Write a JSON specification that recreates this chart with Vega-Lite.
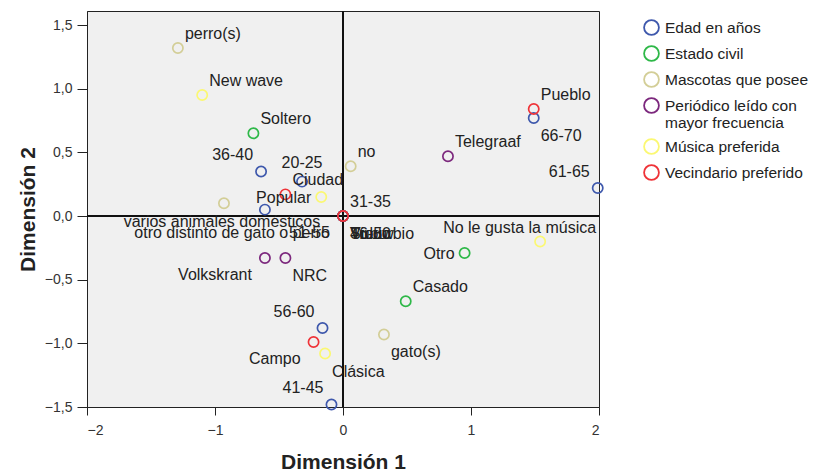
{
  "$schema": "https://vega.github.io/schema/vega-lite/v6.json",
  "width": 512,
  "height": 396,
  "autosize": "none",
  "padding": {"left": 87, "top": 11, "right": 220, "bottom": 66},
  "background": "white",
  "config": {
    "font": "Liberation Sans",
    "view": {"fill": "#f0f0f0", "stroke": "#222222", "strokeWidth": 1}
  },
  "data": {
    "values": [
      {"cat": "Edad en años", "label": "31-35", "d1": 0, "d2": 0},
      {"cat": "Edad en años", "label": "46-50", "d1": 0, "d2": 0},
      {"cat": "Edad en años", "label": "51-55", "d1": 0, "d2": 0},
      {"cat": "Estado civil", "label": "Viudo", "d1": 0, "d2": 0},
      {"cat": "Mascotas que posee", "label": "otro distinto de gato o perro", "d1": 0, "d2": 0},
      {"cat": "Periódico leído con mayor frecuencia", "label": "Trouw", "d1": 0, "d2": 0},
      {"cat": "Edad en años", "label": "20-25", "d1": -0.32, "d2": 0.27},
      {"cat": "Edad en años", "label": "36-40", "d1": -0.64, "d2": 0.35},
      {"cat": "Edad en años", "label": "26-30", "d1": -0.61, "d2": 0.05},
      {"cat": "Edad en años", "label": "41-45", "d1": -0.09, "d2": -1.48},
      {"cat": "Edad en años", "label": "56-60", "d1": -0.16, "d2": -0.88},
      {"cat": "Edad en años", "label": "61-65", "d1": 1.99, "d2": 0.22},
      {"cat": "Edad en años", "label": "66-70", "d1": 1.49, "d2": 0.77},
      {"cat": "Estado civil", "label": "Soltero", "d1": -0.70, "d2": 0.65},
      {"cat": "Estado civil", "label": "Casado", "d1": 0.49, "d2": -0.67},
      {"cat": "Estado civil", "label": "Otro", "d1": 0.95, "d2": -0.29},
      {"cat": "Mascotas que posee", "label": "perro(s)", "d1": -1.29, "d2": 1.32},
      {"cat": "Mascotas que posee", "label": "no", "d1": 0.06, "d2": 0.39},
      {"cat": "Mascotas que posee", "label": "varios animales domésticos", "d1": -0.93, "d2": 0.10},
      {"cat": "Mascotas que posee", "label": "gato(s)", "d1": 0.32, "d2": -0.93},
      {"cat": "Periódico leído con mayor frecuencia", "label": "Telegraaf", "d1": 0.82, "d2": 0.47},
      {"cat": "Periódico leído con mayor frecuencia", "label": "Volkskrant", "d1": -0.61, "d2": -0.33},
      {"cat": "Periódico leído con mayor frecuencia", "label": "NRC", "d1": -0.45, "d2": -0.33},
      {"cat": "Música preferida", "label": "New wave", "d1": -1.10, "d2": 0.95},
      {"cat": "Música preferida", "label": "Popular", "d1": -0.17, "d2": 0.15},
      {"cat": "Música preferida", "label": "No le gusta la música", "d1": 1.54, "d2": -0.20},
      {"cat": "Música preferida", "label": "Clásica", "d1": -0.14, "d2": -1.08},
      {"cat": "Vecindario preferido", "label": "Pueblo", "d1": 1.49, "d2": 0.84},
      {"cat": "Vecindario preferido", "label": "Ciudad", "d1": -0.45, "d2": 0.17},
      {"cat": "Vecindario preferido", "label": "Campo", "d1": -0.23, "d2": -0.99},
      {"cat": "Vecindario preferido", "label": "Suburbio", "d1": 0, "d2": 0}
    ]
  },
  "encoding": {
    "x": {
      "field": "d1", "type": "quantitative",
      "scale": {"domain": [-2, 2], "nice": false, "zero": false},
      "axis": {
        "title": "Dimensión 1", "values": [-2, -1, 0, 1, 2], "grid": false,
        "domainColor": "#222222", "tickColor": "#222222", "tickSize": 8,
        "labelFont": "Liberation Sans", "labelFontSize": 14, "labelColor": "#333333", "labelPadding": 8,
        "titleFont": "Liberation Sans", "titleFontSize": 21, "titleFontWeight": "bold", "titleColor": "#222222",
        "titleY": 55, "titleBaseline": "middle"
      }
    },
    "y": {
      "field": "d2", "type": "quantitative",
      "scale": {"domain": [-1.5, 1.61], "nice": false, "zero": false},
      "axis": {
        "title": "Dimensión 2", "values": [-1.5, -1, -0.5, 0, 0.5, 1, 1.5], "grid": false,
        "format": ".1f", "labelExpr": "replace(datum.label, '.', ',')",
        "domainColor": "#222222", "tickColor": "#222222", "tickSize": 10,
        "labelFont": "Liberation Sans", "labelFontSize": 14, "labelColor": "#333333", "labelPadding": 5,
        "titleFont": "Liberation Sans", "titleFontSize": 21, "titleFontWeight": "bold", "titleColor": "#222222",
        "titleX": -59, "titleY": 198, "titleBaseline": "middle", "titleAlign": "center"
      }
    }
  },
  "layer": [
    {"mark": {"type": "rule", "color": "#111111", "strokeWidth": 1.5}, "encoding": {"x": {"datum": 0}, "y": null}},
    {"mark": {"type": "rule", "color": "#111111", "strokeWidth": 1.5}, "encoding": {"y": {"datum": 0}, "x": null}},
    {
      "mark": {"type": "point", "shape": "circle", "filled": false, "size": 105, "strokeWidth": 1.7, "opacity": 1},
      "encoding": {
        "color": {
          "field": "cat", "type": "nominal",
          "scale": {
            "domain": ["Edad en años", "Estado civil", "Mascotas que posee", "Periódico leído con mayor frecuencia", "Música preferida", "Vecindario preferido"],
            "range": ["#3E58AC", "#2EB848", "#D3CE97", "#7C287D", "#FBF873", "#EF3338"]
          },
          "legend": {
            "title": null, "orient": "none", "legendX": 556, "legendY": 8,
            "symbolType": "circle", "symbolSize": 220, "symbolStrokeWidth": 1.8, "symbolFillColor": "transparent",
            "labelFont": "Liberation Sans", "labelFontSize": 15.5, "labelColor": "#222222", "labelLimit": 300,
            "rowPadding": 3, "labelOffset": 5,
            "labelExpr": "datum.label == 'Periódico leído con mayor frecuencia' ? ['Periódico leído con', 'mayor frecuencia'] : datum.label"
          }
        }
      }
    },
    {
      "transform": [{"filter": "indexof(['perro(s)','New wave','Soltero','Pueblo','Telegraaf','no','Casado','Ciudad','31-35'], datum.label) >= 0"}],
      "mark": {"type": "text", "align": "left", "baseline": "alphabetic", "dx": 7, "dy": -9, "fontSize": 16, "color": "#222222"},
      "encoding": {"text": {"field": "label"}}
    },
    {
      "transform": [{"filter": "datum.label == '20-25'"}],
      "mark": {"type": "text", "align": "center", "baseline": "alphabetic", "dx": 0, "dy": -14, "fontSize": 16, "color": "#222222"},
      "encoding": {"text": {"field": "label"}}
    },
    {
      "transform": [{"filter": "indexof(['36-40','56-60','41-45','61-65'], datum.label) >= 0"}],
      "mark": {"type": "text", "align": "right", "baseline": "alphabetic", "dx": -8, "dy": -11, "fontSize": 16, "color": "#222222"},
      "encoding": {"text": {"field": "label"}}
    },
    {
      "transform": [{"filter": "datum.label == 'No le gusta la música'"}],
      "mark": {"type": "text", "align": "right", "baseline": "alphabetic", "dx": 56, "dy": -8, "fontSize": 16, "color": "#222222"},
      "encoding": {"text": {"field": "label"}}
    },
    {
      "transform": [{"filter": "indexof(['66-70','gato(s)','Clásica','NRC','Viudo','Trouw','Suburbio','46-50'], datum.label) >= 0"}],
      "mark": {"type": "text", "align": "left", "baseline": "alphabetic", "dx": 7, "dy": 23, "fontSize": 16, "color": "#222222"},
      "encoding": {"text": {"field": "label"}}
    },
    {
      "transform": [{"filter": "indexof(['Volkskrant','Campo','otro distinto de gato o perro','51-55'], datum.label) >= 0"}],
      "mark": {"type": "text", "align": "right", "baseline": "alphabetic", "dx": -13, "dy": 22, "fontSize": 16, "color": "#222222"},
      "encoding": {"text": {"field": "label"}}
    },
    {
      "transform": [{"filter": "indexof(['Otro','Popular'], datum.label) >= 0"}],
      "mark": {"type": "text", "align": "right", "baseline": "alphabetic", "dx": -10, "dy": 6, "fontSize": 16, "color": "#222222"},
      "encoding": {"text": {"field": "label"}}
    },
    {
      "transform": [{"filter": "datum.label == 'varios animales domésticos'"}],
      "mark": {"type": "text", "align": "center", "baseline": "alphabetic", "dx": -2, "dy": 24, "fontSize": 16, "color": "#222222"},
      "encoding": {"text": {"field": "label"}}
    }
  ]
}
